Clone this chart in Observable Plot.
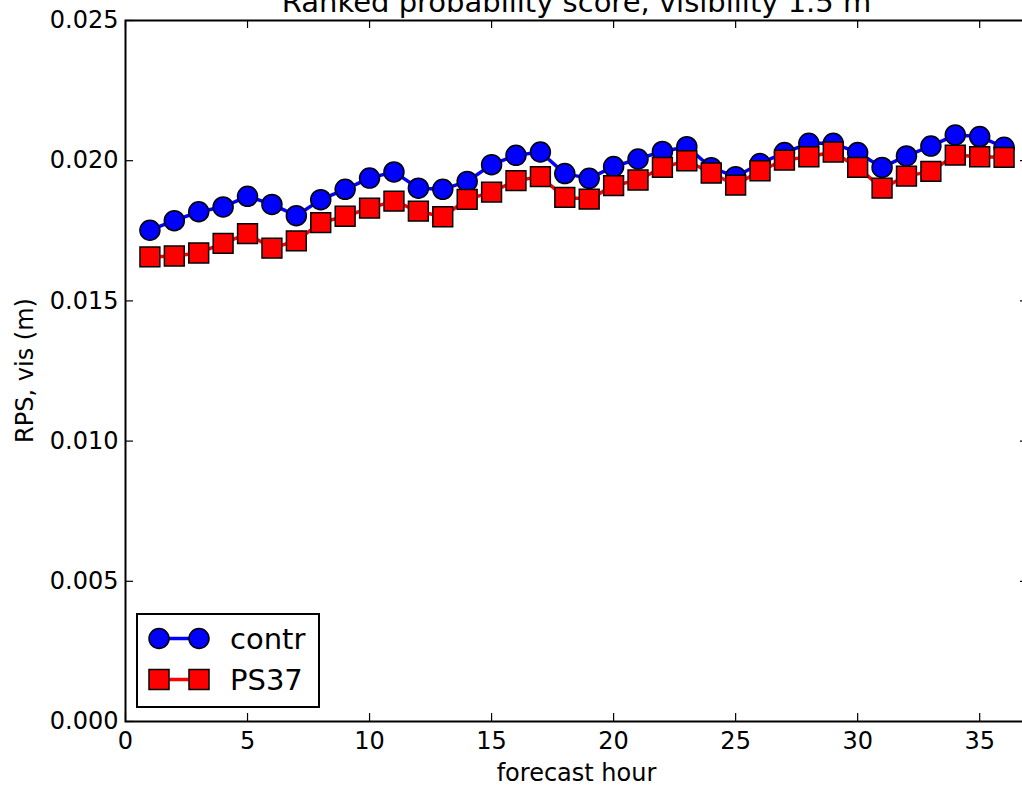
<!DOCTYPE html>
<html><head><meta charset="utf-8">
<script src="https://cdn.jsdelivr.net/npm/d3@7"></script>
<script src="https://cdn.jsdelivr.net/npm/@observablehq/plot@0.6"></script>
<style>
body{margin:0;background:#fff;}
#chart{position:relative;width:1022px;height:789px;overflow:hidden;}
</style>
</head><body><div id="chart"></div>
<script>
const hours = [1,2,3,4,5,6,7,8,9,10,11,12,13,14,15,16,17,18,19,20,21,22,23,24,25,26,27,28,29,30,31,32,33,34,35,36];
const contr = [0.01752,0.01786,0.01818,0.01835,0.01873,0.01844,0.01804,0.01861,0.01898,0.01938,0.01960,0.01902,
               0.01898,0.01926,0.01986,0.02019,0.02031,0.01954,0.01937,0.01979,0.02006,0.02033,0.02050,0.01975,
               0.01943,0.01990,0.02029,0.02062,0.02062,0.02029,0.01976,0.02017,0.02052,0.02092,0.02086,0.02048];
const ps37  = [0.01657,0.01660,0.01671,0.01705,0.01740,0.01688,0.01714,0.01779,0.01802,0.01831,0.01856,0.01820,
               0.01800,0.01862,0.01888,0.01929,0.01943,0.01869,0.01863,0.01911,0.01931,0.01976,0.02000,0.01956,
               0.01913,0.01964,0.02002,0.02014,0.02031,0.01976,0.01902,0.01945,0.01962,0.02020,0.02014,0.02012];
const xTicks = [0,5,10,15,20,25,30,35];
const yTicks = [0,0.005,0.010,0.015,0.020,0.025];
const seriesNames = ["contr","PS37"];
const seriesColors = ["#0000ff","#ff0000"];
const titleText = "Ranked probability score, visibility 1.5 m";
const xLabel = "forecast hour";
const yLabel = "RPS, vis (m)";

const W = 1022, H = 789, mT = 20, mB = 68, mL = 125, mR = -6;
const frameW = W - mL - mR, frameH = H - mT - mB;
const tickLen = 8;
const FONT = "'DejaVu Sans', sans-serif";

const rowsC = hours.map((h, i) => ({h, v: contr[i]}));
const rowsP = hours.map((h, i) => ({h, v: ps37[i]}));

const plot = Plot.plot({
  width: W, height: H,
  marginTop: mT, marginBottom: mB, marginLeft: mL, marginRight: mR,
  style: {fontFamily: FONT, fontSize: "24px", background: "white", color: "black", overflow: "hidden"},
  x: {domain: [0, 37]},
  y: {domain: [0, 0.025]},
  marks: [
    Plot.line(rowsC, {x: "h", y: "v", stroke: seriesColors[0], strokeWidth: 3.5}),
    Plot.dot(rowsC, {x: "h", y: "v", r: 10, symbol: "circle", fill: seriesColors[0], stroke: "black", strokeWidth: 1.5}),
    Plot.line(rowsP, {x: "h", y: "v", stroke: seriesColors[1], strokeWidth: 3.5}),
    Plot.dot(rowsP, {x: "h", y: "v", r: 11.2, symbol: "square", fill: seriesColors[1], stroke: "black", strokeWidth: 1.5}),
    Plot.frame({stroke: "black", strokeWidth: 2}),
    Plot.tickX(xTicks, {x: d => d, insetTop: frameH - tickLen, stroke: "black", strokeWidth: 1.2}),
    Plot.tickX(xTicks, {x: d => d, insetBottom: frameH - tickLen, stroke: "black", strokeWidth: 1.2}),
    Plot.tickY(yTicks, {y: d => d, insetRight: frameW - tickLen, stroke: "black", strokeWidth: 1.2}),
    Plot.tickY(yTicks, {y: d => d, insetLeft: frameW - tickLen, stroke: "black", strokeWidth: 1.2}),
    Plot.axisX({ticks: xTicks, tickSize: 0, tickPadding: 10, label: null, fontSize: 24, tickFormat: d3.format("d")}),
    Plot.axisY({ticks: yTicks, tickSize: 0, tickPadding: 7, label: null, fontSize: 24, tickFormat: d3.format(".3f")})
  ]
});
document.getElementById("chart").appendChild(plot);

const svg = d3.select(plot);
const cx = mL + frameW / 2;
// title
svg.append("text").attr("x", cx).attr("y", 12).attr("text-anchor", "middle")
  .attr("font-family", FONT).attr("font-size", 29).attr("fill", "black").text(titleText);
// x label
svg.append("text").attr("x", cx).attr("y", 781).attr("text-anchor", "middle")
  .attr("font-family", FONT).attr("font-size", 24).attr("fill", "black").text(xLabel);
// y label
svg.append("text").attr("transform", `translate(33,${mT + frameH / 2}) rotate(-90)`).attr("text-anchor", "middle")
  .attr("font-family", FONT).attr("font-size", 24).attr("fill", "black").text(yLabel);

// legend
const lg = svg.append("g");
lg.append("rect").attr("x", 137).attr("y", 614).attr("width", 182).attr("height", 93)
  .attr("fill", "white").attr("stroke", "black").attr("stroke-width", 2);
const rowsY = [638.5, 679.5];
const baseY = [648.5, 690];
seriesNames.forEach((name, i) => {
  const y = rowsY[i];
  lg.append("line").attr("x1", 159).attr("x2", 199).attr("y1", y).attr("y2", y)
    .attr("stroke", seriesColors[i]).attr("stroke-width", 3.5);
  [159, 199].forEach(x => {
    if (i === 0) {
      lg.append("circle").attr("cx", x).attr("cy", y).attr("r", 10)
        .attr("fill", seriesColors[i]).attr("stroke", "black").attr("stroke-width", 1.5);
    } else {
      lg.append("rect").attr("x", x - 10).attr("y", y - 10).attr("width", 20).attr("height", 20)
        .attr("fill", seriesColors[i]).attr("stroke", "black").attr("stroke-width", 1.5);
    }
  });
  lg.append("text").attr("x", 230).attr("y", baseY[i]).attr("text-anchor", "start").attr("font-family", FONT)
    .attr("font-size", 29).attr("fill", "black").text(name);
});
</script>
</body></html>
